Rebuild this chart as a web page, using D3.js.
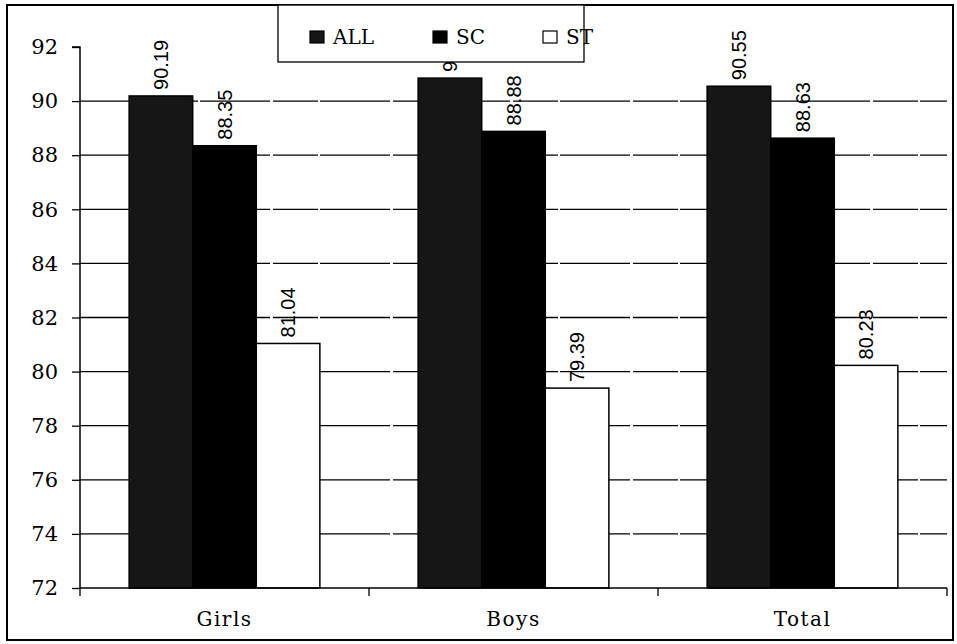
<!DOCTYPE html>
<html><head><meta charset="utf-8">
<script src="https://cdn.jsdelivr.net/npm/d3@7"></script>
<style>body{margin:0;background:#fff}svg{display:block}</style>
</head><body>
<svg id="c" width="957" height="644"></svg>
<script>
const categories = ["Girls", "Boys", "Total"];
const seriesNames = ["ALL", "SC", "ST"];
const allValues = [90.19, 90.85, 90.55];
const scValues = [88.35, 88.88, 88.63];
const stValues = [81.04, 79.39, 80.23];
const labelTexts = [["90.19","88.35","81.04"],["90.85","88.88","79.39"],["90.55","88.63","80.23"]];
const yTicks = [72, 74, 76, 78, 80, 82, 84, 86, 88, 90, 92];
const colors = {ALL: "#161616", SC: "#000000", ST: "#ffffff"};

const svg = d3.select("#c");
const m = {left: 80, right: 947, top: 47, bottom: 588};
const serif = "'DejaVu Serif', serif";

svg.append("rect").attr("x", 7).attr("y", 5).attr("width", 946).attr("height", 635)
  .attr("fill", "#fff").attr("stroke", "#000").attr("stroke-width", 2);

const y = d3.scaleLinear().domain([72, 92]).range([m.bottom, m.top]);
const x0 = d3.scaleBand().domain(categories).range([m.left, m.right]).paddingInner(0.34).paddingOuter(0.17);
const x1 = d3.scaleBand().domain(seriesNames).range([0, x0.bandwidth()]);

// gridlines
svg.append("g").selectAll("line").data(yTicks.filter(t => t > 72 && t < 92)).join("line")
  .attr("x1", m.left).attr("x2", m.right)
  .attr("y1", d => y(d)).attr("y2", d => y(d))
  .attr("stroke", "#000").attr("stroke-width", 1.3).attr("stroke-dasharray", "70,3,45,2");

const data = categories.map((c, i) => ({cat: c, vals: [allValues[i], scValues[i], stValues[i]], labels: labelTexts[i]}));

const g = svg.append("g").selectAll("g").data(data).join("g")
  .attr("transform", d => `translate(${x0(d.cat)},0)`);
g.selectAll("rect").data(d => d.vals.map((v, j) => ({s: seriesNames[j], v}))).join("rect")
  .attr("x", d => x1(d.s)).attr("width", x1.bandwidth())
  .attr("y", d => y(d.v)).attr("height", d => y(72) - y(d.v))
  .attr("fill", d => colors[d.s]).attr("stroke", "#000").attr("stroke-width", 1.5);
g.selectAll("text").data(d => d.vals.map((v, j) => ({s: seriesNames[j], v, t: d.labels[j]}))).join("text")
  .attr("transform", d => `translate(${x1(d.s) + x1.bandwidth() / 2 + 7},${y(d.v) - 6}) rotate(-90)`)
  .attr("font-family", "'Liberation Sans', Arial, sans-serif").attr("font-size", 20)
  .attr("fill", "#000").text(d => d.t);

// y axis
const ya = svg.append("g").attr("transform", `translate(${m.left},0)`)
  .call(d3.axisLeft(y).tickValues(yTicks).tickSize(8).tickPadding(14).tickFormat(d3.format("d")));
ya.select(".domain").attr("stroke", "#000").attr("stroke-width", 1.5).attr("d", `M-8,${m.top}H0V${m.bottom}`);
ya.selectAll(".tick line").attr("stroke", "#000").attr("stroke-width", 1.3);
ya.selectAll("text").attr("font-family", serif).attr("font-size", 21).attr("fill", "#000");

// x axis
const xa = svg.append("g").attr("transform", `translate(0,${m.bottom})`)
  .call(d3.axisBottom(x0).tickSize(0).tickPadding(24));
xa.select(".domain").attr("stroke", "#000").attr("stroke-width", 1.5).attr("d", `M${m.left},0H${m.right}`);
xa.selectAll("text").attr("font-family", serif).attr("font-size", 20).attr("letter-spacing", 1.5).attr("fill", "#000");
const bounds = [0, 1, 2, 3].map(i => m.left + i * x0.step());
xa.append("g").selectAll("line").data(bounds).join("line")
  .attr("x1", d => d).attr("x2", d => d).attr("y1", 0).attr("y2", 8)
  .attr("stroke", "#000").attr("stroke-width", 1.3);

// legend
const lg = svg.append("g");
lg.append("rect").attr("x", 278).attr("y", 5).attr("width", 306).attr("height", 57)
  .attr("fill", "#fff").attr("stroke", "#000").attr("stroke-width", 1.3);
const legX = [310, 433, 543];
const li = lg.selectAll("g").data(seriesNames).join("g").attr("transform", (d, i) => `translate(${legX[i]},31)`);
li.append("rect").attr("x", 0).attr("y", 0).attr("width", 14).attr("height", 12)
  .attr("fill", d => colors[d]).attr("stroke", "#000").attr("stroke-width", 1.2);
li.append("text").attr("x", 23).attr("y", 13).attr("font-family", serif).attr("font-size", 20)
  .attr("fill", "#000").text(d => d);
</script>
</body></html>
